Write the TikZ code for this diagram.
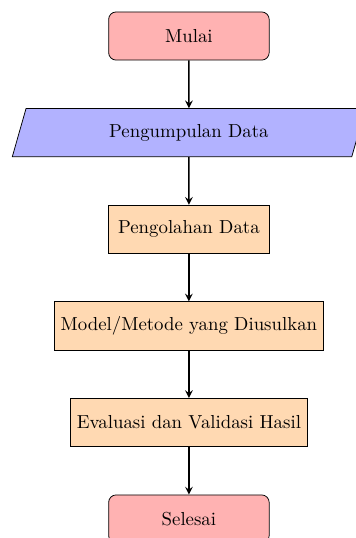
\documentclass[tikz,border=0pt]{standalone}
\usepackage{tikz}
\usetikzlibrary{shapes.geometric,arrows}
\tikzstyle{startstop}=[rectangle,rounded corners,minimum width=3cm,minimum height=0.9cm,text centered,draw=black,fill=red!30]
\tikzstyle{io}=[trapezium,trapezium left angle=65,trapezium right angle=115,trapezium stretches body,minimum width=6.6cm,minimum height=0.9cm,text centered,draw=black,fill=blue!30]
\tikzstyle{process}=[rectangle,minimum width=3cm,minimum height=0.9cm,text centered,draw=black,fill=orange!30]
\tikzstyle{arrow}=[thick,->,>=stealth]
\newcommand{\stepshiftamount}{1.805}

\begin{document}
\begin{tikzpicture}

  \useasboundingbox (-3.53,0.673) rectangle (3.12,-9.38);

  \node[startstop] (mulai)   at (0,0)                     {Mulai};
  \node[io]        (data)    at (0,-1*\stepshiftamount)   {Pengumpulan Data};
  \node[process]   (olah)    at (0,-2*\stepshiftamount)   {Pengolahan Data};
  \node[process]   (model)   at (0,-3*\stepshiftamount)   {Model/Metode yang Diusulkan};
  \node[process]   (evaluasi) at (0,-4*\stepshiftamount)  {Evaluasi dan Validasi Hasil};
  \node[startstop] (selesai) at (0,-5*\stepshiftamount)   {Selesai};

  \draw [arrow] (mulai) -- (data);
  \draw [arrow] (data) -- (olah);
  \draw [arrow] (olah) -- (model);
  \draw [arrow] (model) -- (evaluasi);
  \draw [arrow] (evaluasi) -- (selesai);
\end{tikzpicture}
\end{document}
